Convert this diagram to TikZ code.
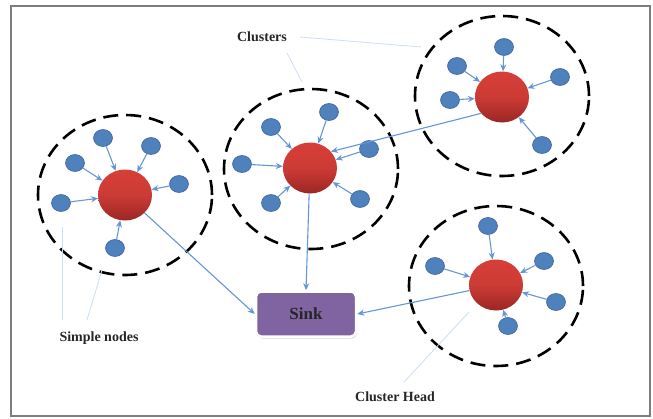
\documentclass[tikz,border=0pt]{standalone}
\usepackage{fontspec}
\setmainfont{Liberation Serif}
\usetikzlibrary{positioning}
\usetikzlibrary{arrows.meta, shapes.geometric, shadows}

\definecolor{nodeblue}{RGB}{79,129,189}
\definecolor{nodeedge}{RGB}{60,100,155}
\definecolor{linkblue}{RGB}{100,150,215}
\definecolor{sinkpurple}{RGB}{128,100,162}
\definecolor{headred}{RGB}{215,62,56}
\definecolor{headdark}{RGB}{155,38,36}
\definecolor{calloutblue}{RGB}{205,221,242}
\definecolor{framegray}{RGB}{125,125,125}

\tikzset{
  simple/.style={ellipse, draw=nodeedge, fill=nodeblue, line width=0.6pt,
                 minimum width=19pt, minimum height=17pt, inner sep=0pt},
  head/.style={ellipse, top color=headred, bottom color=headdark, middle color=headred!95!black,
               minimum width=54pt, minimum height=51pt, inner sep=0pt},
  cluster/.style={ellipse, draw=black, line width=2.6pt, dash pattern=on 15pt off 8pt,
                  minimum width=174pt, minimum height=160pt},
  link/.style={draw=linkblue, line width=1.1pt, -{Stealth[length=7pt, width=6pt]}},
  callout/.style={draw=calloutblue, line width=0.8pt},
  lbl/.style={font=\bfseries\fontsize{14}{16}\selectfont, text=black!85}
}

\begin{document}
\begin{tikzpicture}[x=1pt, y=-1pt]
   \useasboundingbox (0,0) rectangle (653,418);
   \draw[framegray, line width=2pt] (11,6) rectangle (650,416);

   \node[cluster] (clus1) at (125,195) {};
   \node[cluster] (clus2) at (311,169) {};
   \node[cluster] (clus3) at (502,96) {};
   \node[cluster] (clus4) at (496,286) {};

   \node[head] (CH1) at (125,195) {};
   \node[head] (CH2) at (310,168) {};
   \node[head] (CH3) at (502,97) {};
   \node[head] (CH4) at (496,285) {};

   \node[simple] (a1) at (103,138) {};
   \node[simple] (a2) at (151,146) {};
   \node[simple] (a3) at (75,163) {};
   \node[simple] (a4) at (179,184) {};
   \node[simple] (a5) at (61,203) {};
   \node[simple] (a6) at (115,248) {};

   \node[simple] (b1) at (329,112) {};
   \node[simple] (b2) at (271,127) {};
   \node[simple] (b3) at (369,149) {};
   \node[simple] (b4) at (242,164) {};
   \node[simple] (b5) at (271,203) {};
   \node[simple] (b6) at (360,199) {};

   \node[simple] (c1) at (504,47) {};
   \node[simple] (c2) at (457,66) {};
   \node[simple] (c3) at (560,77) {};
   \node[simple] (c4) at (450,100) {};
   \node[simple] (c5) at (542,145) {};

   \node[simple] (d1) at (488,226) {};
   \node[simple] (d2) at (435,266) {};
   \node[simple] (d3) at (544,261) {};
   \node[simple] (d4) at (556,302) {};
   \node[simple] (d5) at (508,326) {};

   \node[rectangle,
         rounded corners=5pt,
         draw=white,
         line width=2.5pt,
         fill=sinkpurple,
         drop shadow={opacity=0.3, shadow xshift=1pt, shadow yshift=-2pt},
         minimum width=100pt,
         minimum height=45pt,
         font=\bfseries\fontsize{17}{19}\selectfont,
         text=black!85] (sink) at (306,314) {Sink};

   \foreach \s in {a1,a2,a3,a4,a5,a6} \draw[link] (\s) -- (CH1);
   \foreach \s in {b1,b2,b3,b4,b5,b6} \draw[link] (\s) -- (CH2);
   \foreach \s in {c1,c2,c3,c4,c5} \draw[link] (\s) -- (CH3);
   \foreach \s in {d1,d2,d3,d4,d5} \draw[link] (\s) -- (CH4);

   \draw[link] (CH1) -- (sink.west);
   \draw[link] (CH2) -- (sink.north);
   \draw[link] (CH4) -- (sink.east);
   \draw[link] (CH3.218) -- (CH2.38);

   \node[lbl] (clab) at (262,37) {Clusters};
   \node[lbl] (slab) at (99,338) {Simple nodes};
   \node[lbl] (hlab) at (395,397) {Cluster Head};

   \coordinate (cfrom1) at (300,37);
   \coordinate (cto1) at (421,47);
   \coordinate (cfrom2) at (287,53);
   \coordinate (cto2) at (302,82);
   \coordinate (sfrom1) at (62,320);
   \coordinate (sto1) at (62,227);
   \coordinate (sfrom2) at (87,320);
   \coordinate (sto2) at (102,270);
   \coordinate (hfrom) at (404,382);
   \coordinate (hto) at (469,312);

   \draw[callout] (cfrom1) -- (cto1);
   \draw[callout] (cfrom2) -- (cto2);
   \draw[callout] (sfrom1) -- (sto1);
   \draw[callout] (sfrom2) -- (sto2);
   \draw[callout] (hfrom) -- (hto);
\end{tikzpicture}
\end{document}
